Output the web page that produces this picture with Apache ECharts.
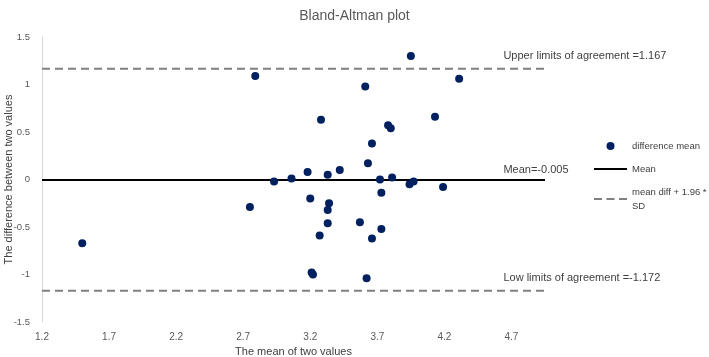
<!DOCTYPE html>
<html>
<head>
<meta charset="utf-8">
<script src="https://cdn.jsdelivr.net/npm/echarts@6/dist/echarts.min.js"></script>
<style>
  html, body { margin: 0; padding: 0; background: #fff; }
  #main { width: 709px; height: 357px; }
</style>
</head>
<body>
<div id="main"></div>
<script>
// mean of two values (x) and difference between two values (y)
var meanValues = [1.50, 2.79, 2.75, 2.93, 3.06, 3.18, 3.20, 3.21, 3.22, 3.27, 3.28, 3.33, 3.34, 3.33, 3.33, 3.42, 3.57,
    3.61, 3.62, 3.63, 3.66, 3.66, 3.72, 3.73, 3.73, 3.78, 3.80, 3.81, 3.94, 3.95, 3.97, 4.13, 4.19, 4.31]
var diffValues = [-0.67, 1.09, -0.29, -0.02, 0.01, 0.08, -0.20, -0.98, -1.00, -0.59, 0.63, 0.05, -0.25, -0.32, -0.46, 0.10, -0.45,
    0.98, -1.04, 0.17, 0.38, -0.62, 0.00, -0.14, -0.52, 0.57, 0.54, 0.02, -0.05, 1.30, -0.02, 0.66, -0.08, 1.06]
var meanDiff = -0.005
var upperLimit = 1.167
var lowerLimit = -1.172
var lineRange = [1.2, 4.95]

var Chart = echarts.init(document.getElementById('main'))
var font = 'Liberation Sans'
var points = meanValues.map(function (m, i) { return [m, diffValues[i]] })
var hline = function (v) { return [[lineRange[0], v], [lineRange[1], v]] }

var option = {
    animation: false,
    textStyle: { fontFamily: font },
    title: {
        text: 'Bland-Altman plot',
        left: 'center',
        top: 4,
        textStyle: { fontSize: 14, fontWeight: 'normal', color: '#595959', fontFamily: font }
    },
    grid: {
        left: 42,
        right: 164,
        top: 37,
        bottom: 35,
        outerBoundsMode: 'none'
    },
    legend: {
        orient: 'vertical',
        left: 589,
        top: 134,
        itemGap: 9,
        itemWidth: 33,
        itemHeight: 8,
        data: [
            { name: 'difference mean', icon: 'circle' },
            { name: 'Mean', icon: 'path://M0,0h33v2h-33z' },
            { name: 'mean diff + 1.96 * SD', icon: 'path://M0,0h8v2h-8z M12.5,0h8v2h-8z M25,0h8v2h-8z' }
        ],
        formatter: function (name) {
            return name === 'mean diff + 1.96 * SD' ? 'mean diff + 1.96 *\nSD' : name
        },
        textStyle: { fontSize: 9.5, color: '#404040', fontFamily: font, lineHeight: 14 }
    },
    xAxis: {
        type: 'value',
        min: 1.2,
        max: 4.95,
        interval: 0.5,
        name: 'The mean of two values',
        nameLocation: 'middle',
        nameGap: 24,
        nameMoveOverlap: false,
        nameTextStyle: { fontSize: 11, color: '#404040' },
        axisLine: { show: false },
        axisTick: { show: false },
        splitLine: { show: false },
        axisLabel: {
            fontSize: 10, color: '#595959', margin: 10, showMaxLabel: false,
            formatter: function (v) { return v.toFixed(1) }
        }
    },
    yAxis: {
        type: 'value',
        min: -1.5,
        max: 1.5,
        interval: 0.5,
        name: 'The difference between two values',
        nameLocation: 'middle',
        nameGap: 28,
        nameMoveOverlap: false,
        nameTextStyle: { fontSize: 11, color: '#404040' },
        axisLine: { show: true, onZero: false, lineStyle: { color: '#d9d9d9', width: 1 } },
        axisTick: { show: false },
        splitLine: { show: false },
        axisLabel: { fontSize: 9.5, color: '#595959', margin: 12 }
    },
    series: [
        {
            name: 'difference mean',
            type: 'scatter',
            symbolSize: 8,
            itemStyle: { color: '#002060', opacity: 1 },
            data: points,
            z: 5
        },
        {
            name: 'Mean',
            type: 'line',
            symbol: 'none',
            lineStyle: { color: '#000000', width: 2 },
            itemStyle: { color: '#000000' },
            data: hline(meanDiff)
        },
        {
            name: 'mean diff + 1.96 * SD',
            type: 'line',
            symbol: 'none',
            lineStyle: { color: '#808080', width: 2, type: [8, 5] },
            itemStyle: { color: '#808080' },
            data: hline(upperLimit)
        },
        {
            name: 'mean diff + 1.96 * SD',
            type: 'line',
            symbol: 'none',
            lineStyle: { color: '#808080', width: 2, type: [8, 5] },
            itemStyle: { color: '#808080' },
            data: hline(lowerLimit)
        }
    ]
}
Chart.setOption(option)

// text labels next to the three reference lines
var labelX = 4.64
var notes = [
    [upperLimit, 'Upper limits of agreement =' + upperLimit.toFixed(3), 7],
    [meanDiff, 'Mean=-0.005', 5],
    [lowerLimit, 'Low limits of agreement =' + lowerLimit.toFixed(3), 7]
]
Chart.setOption({
    graphic: notes.map(function (n) {
        var p = Chart.convertToPixel({ gridIndex: 0 }, [labelX, n[0]])
        return {
            type: 'text',
            x: p[0],
            y: p[1] - n[2],
            style: { text: n[1], fill: '#404040', font: '11px ' + font, textVerticalAlign: 'bottom' }
        }
    })
})
</script>
</body>
</html>
